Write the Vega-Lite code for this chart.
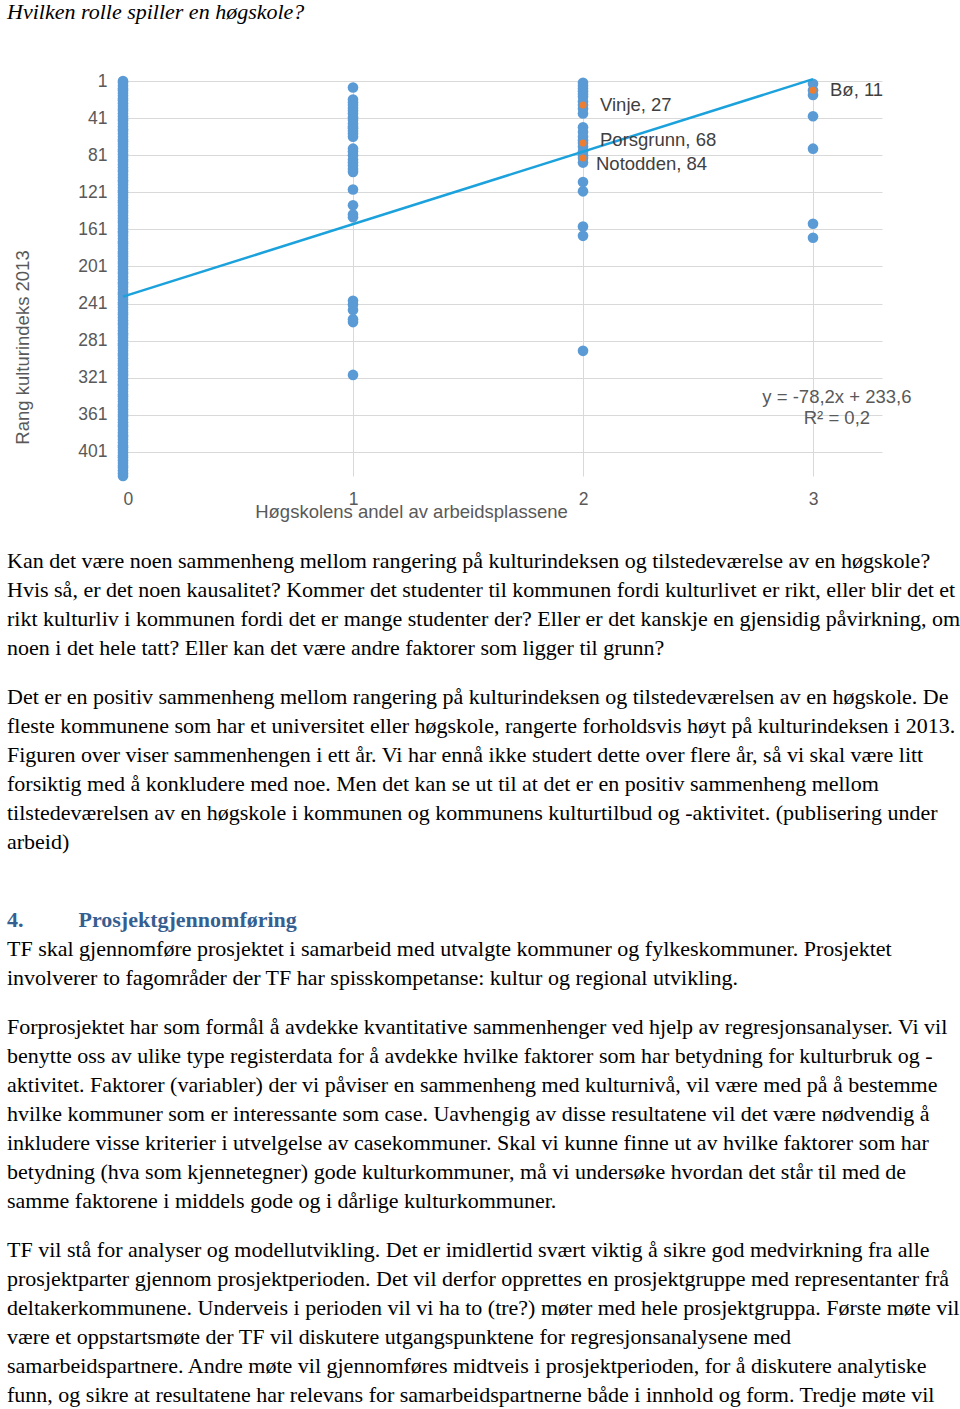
{
  "$schema": "https://vega.github.io/schema/vega-lite/v6.json",
  "background": "white",
  "padding": {"left": 7, "top": 1, "right": 0, "bottom": 0},
  "config": {"view": {"stroke": null}, "font": "Liberation Sans"},
  "title": {
    "text": "Hvilken rolle spiller en høgskole?",
    "font": "Liberation Serif",
    "fontStyle": "italic",
    "fontWeight": "normal",
    "fontSize": 22,
    "color": "#000000",
    "anchor": "start",
    "offset": 48
  },
  "datasets": {
    "punkter": [
      {"andel":0,"rang":1},{"andel":0,"rang":3},{"andel":0,"rang":6},{"andel":0,"rang":9},{"andel":0,"rang":11},{"andel":0,"rang":14},{"andel":0,"rang":17},{"andel":0,"rang":20},{"andel":0,"rang":22},{"andel":0,"rang":25},{"andel":0,"rang":28},{"andel":0,"rang":31},{"andel":0,"rang":33},{"andel":0,"rang":36},{"andel":0,"rang":39},{"andel":0,"rang":42},{"andel":0,"rang":44},{"andel":0,"rang":47},{"andel":0,"rang":50},{"andel":0,"rang":53},{"andel":0,"rang":55},{"andel":0,"rang":58},{"andel":0,"rang":61},{"andel":0,"rang":64},{"andel":0,"rang":66},{"andel":0,"rang":69},{"andel":0,"rang":72},{"andel":0,"rang":75},{"andel":0,"rang":77},{"andel":0,"rang":80},{"andel":0,"rang":83},{"andel":0,"rang":86},{"andel":0,"rang":88},{"andel":0,"rang":91},{"andel":0,"rang":94},{"andel":0,"rang":97},{"andel":0,"rang":99},{"andel":0,"rang":102},{"andel":0,"rang":105},{"andel":0,"rang":108},{"andel":0,"rang":110},{"andel":0,"rang":113},{"andel":0,"rang":116},{"andel":0,"rang":119},{"andel":0,"rang":121},{"andel":0,"rang":124},{"andel":0,"rang":127},{"andel":0,"rang":130},{"andel":0,"rang":132},{"andel":0,"rang":135},{"andel":0,"rang":138},{"andel":0,"rang":141},{"andel":0,"rang":143},{"andel":0,"rang":146},{"andel":0,"rang":149},{"andel":0,"rang":152},{"andel":0,"rang":154},{"andel":0,"rang":157},{"andel":0,"rang":160},{"andel":0,"rang":163},{"andel":0,"rang":165},{"andel":0,"rang":168},{"andel":0,"rang":171},{"andel":0,"rang":174},{"andel":0,"rang":176},{"andel":0,"rang":179},{"andel":0,"rang":182},{"andel":0,"rang":185},{"andel":0,"rang":187},{"andel":0,"rang":190},{"andel":0,"rang":193},{"andel":0,"rang":196},{"andel":0,"rang":198},{"andel":0,"rang":201},{"andel":0,"rang":204},{"andel":0,"rang":207},{"andel":0,"rang":209},{"andel":0,"rang":212},{"andel":0,"rang":215},{"andel":0,"rang":218},{"andel":0,"rang":220},{"andel":0,"rang":223},{"andel":0,"rang":226},{"andel":0,"rang":229},{"andel":0,"rang":231},{"andel":0,"rang":234},{"andel":0,"rang":237},{"andel":0,"rang":240},{"andel":0,"rang":242},{"andel":0,"rang":245},{"andel":0,"rang":248},{"andel":0,"rang":251},{"andel":0,"rang":253},{"andel":0,"rang":256},{"andel":0,"rang":259},{"andel":0,"rang":262},{"andel":0,"rang":264},{"andel":0,"rang":267},{"andel":0,"rang":270},{"andel":0,"rang":273},{"andel":0,"rang":275},{"andel":0,"rang":278},{"andel":0,"rang":281},{"andel":0,"rang":284},{"andel":0,"rang":286},{"andel":0,"rang":289},{"andel":0,"rang":292},{"andel":0,"rang":295},{"andel":0,"rang":297},{"andel":0,"rang":300},{"andel":0,"rang":303},{"andel":0,"rang":306},{"andel":0,"rang":308},{"andel":0,"rang":311},{"andel":0,"rang":314},{"andel":0,"rang":317},{"andel":0,"rang":319},{"andel":0,"rang":322},{"andel":0,"rang":325},{"andel":0,"rang":328},{"andel":0,"rang":330},{"andel":0,"rang":333},{"andel":0,"rang":336},{"andel":0,"rang":339},{"andel":0,"rang":341},{"andel":0,"rang":344},{"andel":0,"rang":347},{"andel":0,"rang":350},{"andel":0,"rang":352},{"andel":0,"rang":355},{"andel":0,"rang":358},{"andel":0,"rang":361},{"andel":0,"rang":363},{"andel":0,"rang":366},{"andel":0,"rang":369},{"andel":0,"rang":372},{"andel":0,"rang":374},{"andel":0,"rang":377},{"andel":0,"rang":380},{"andel":0,"rang":383},{"andel":0,"rang":385},{"andel":0,"rang":388},{"andel":0,"rang":391},{"andel":0,"rang":394},{"andel":0,"rang":396},{"andel":0,"rang":399},{"andel":0,"rang":402},{"andel":0,"rang":405},{"andel":0,"rang":407},{"andel":0,"rang":410},{"andel":0,"rang":413},{"andel":0,"rang":416},{"andel":0,"rang":418},{"andel":0,"rang":421},{"andel":0,"rang":424},{"andel":0,"rang":427},
      {"andel":1,"rang":8},{"andel":1,"rang":21},{"andel":1,"rang":24},{"andel":1,"rang":27},{"andel":1,"rang":30},{"andel":1,"rang":33},{"andel":1,"rang":36},{"andel":1,"rang":40},{"andel":1,"rang":43},{"andel":1,"rang":47},{"andel":1,"rang":50},{"andel":1,"rang":52},{"andel":1,"rang":55},{"andel":1,"rang":58},{"andel":1,"rang":61},{"andel":1,"rang":74},{"andel":1,"rang":77},{"andel":1,"rang":81},{"andel":1,"rang":86},{"andel":1,"rang":89},{"andel":1,"rang":92},{"andel":1,"rang":96},{"andel":1,"rang":99},{"andel":1,"rang":118},{"andel":1,"rang":135},{"andel":1,"rang":145},{"andel":1,"rang":148},{"andel":1,"rang":238},{"andel":1,"rang":242},{"andel":1,"rang":248},{"andel":1,"rang":258},{"andel":1,"rang":261},{"andel":1,"rang":318},
      {"andel":2,"rang":3},{"andel":2,"rang":6},{"andel":2,"rang":9},{"andel":2,"rang":12},{"andel":2,"rang":15},{"andel":2,"rang":18},{"andel":2,"rang":23},{"andel":2,"rang":27},{"andel":2,"rang":31},{"andel":2,"rang":36},{"andel":2,"rang":51},{"andel":2,"rang":56},{"andel":2,"rang":61},{"andel":2,"rang":65},{"andel":2,"rang":68},{"andel":2,"rang":72},{"andel":2,"rang":77},{"andel":2,"rang":81},{"andel":2,"rang":84},{"andel":2,"rang":89},{"andel":2,"rang":110},{"andel":2,"rang":120},{"andel":2,"rang":158},{"andel":2,"rang":168},{"andel":2,"rang":292},
      {"andel":3,"rang":4},{"andel":3,"rang":11},{"andel":3,"rang":16},{"andel":3,"rang":39},{"andel":3,"rang":74},{"andel":3,"rang":155},{"andel":3,"rang":170}
    ],
    "utvalgte": [
      {"andel":2,"rang":27,"navn":"Vinje","etikett":"Vinje, 27"},
      {"andel":2,"rang":68,"navn":"Porsgrunn","etikett":"Porsgrunn, 68"},
      {"andel":2,"rang":84,"navn":"Notodden","etikett":"Notodden, 84"},
      {"andel":3,"rang":11,"navn":"Bø","etikett":"Bø, 11"}
    ],
    "trend": [
      {"andel":0,"rang":233.6},
      {"andel":3,"rang":-1}
    ],
    "likning": [
      {"andel":3.104,"rang":342,"tekst":"y = -78,2x + 233,6"},
      {"andel":3.104,"rang":364,"tekst":"R² = 0,2"}
    ],
    "tekst": [
      {"avsnitt":1,"linje":1,"tekst":"Kan det være noen sammenheng mellom rangering på kulturindeksen og tilstedeværelse av en høgskole?"},
      {"avsnitt":1,"linje":2,"tekst":"Hvis så, er det noen kausalitet? Kommer det studenter til kommunen fordi kulturlivet er rikt, eller blir det et"},
      {"avsnitt":1,"linje":3,"tekst":"rikt kulturliv i kommunen fordi det er mange studenter der? Eller er det kanskje en gjensidig påvirkning, om"},
      {"avsnitt":1,"linje":4,"tekst":"noen i det hele tatt? Eller kan det være andre faktorer som ligger til grunn?"},
      {"avsnitt":2,"linje":1,"tekst":"Det er en positiv sammenheng mellom rangering på kulturindeksen og tilstedeværelsen av en høgskole. De"},
      {"avsnitt":2,"linje":2,"tekst":"fleste kommunene som har et universitet eller høgskole, rangerte forholdsvis høyt på kulturindeksen i 2013."},
      {"avsnitt":2,"linje":3,"tekst":"Figuren over viser sammenhengen i ett år. Vi har ennå ikke studert dette over flere år, så vi skal være litt"},
      {"avsnitt":2,"linje":4,"tekst":"forsiktig med å konkludere med noe. Men det kan se ut til at det er en positiv sammenheng mellom"},
      {"avsnitt":2,"linje":5,"tekst":"tilstedeværelsen av en høgskole i kommunen og kommunens kulturtilbud og -aktivitet. (publisering under"},
      {"avsnitt":2,"linje":6,"tekst":"arbeid)"},
      {"avsnitt":3,"linje":1,"tekst":"4.\u00a0\u00a0\u00a0\u00a0\u00a0\u00a0\u00a0\u00a0\u00a0\u00a0Prosjektgjennomføring"},
      {"avsnitt":3,"linje":2,"tekst":"TF skal gjennomføre prosjektet i samarbeid med utvalgte kommuner og fylkeskommuner. Prosjektet"},
      {"avsnitt":3,"linje":3,"tekst":"involverer to fagområder der TF har spisskompetanse: kultur og regional utvikling."},
      {"avsnitt":4,"linje":1,"tekst":"Forprosjektet har som formål å avdekke kvantitative sammenhenger ved hjelp av regresjonsanalyser. Vi vil"},
      {"avsnitt":4,"linje":2,"tekst":"benytte oss av ulike type registerdata for å avdekke hvilke faktorer som har betydning for kulturbruk og -"},
      {"avsnitt":4,"linje":3,"tekst":"aktivitet. Faktorer (variabler) der vi påviser en sammenheng med kulturnivå, vil være med på å bestemme"},
      {"avsnitt":4,"linje":4,"tekst":"hvilke kommuner som er interessante som case. Uavhengig av disse resultatene vil det være nødvendig å"},
      {"avsnitt":4,"linje":5,"tekst":"inkludere visse kriterier i utvelgelse av casekommuner. Skal vi kunne finne ut av hvilke faktorer som har"},
      {"avsnitt":4,"linje":6,"tekst":"betydning (hva som kjennetegner) gode kulturkommuner, må vi undersøke hvordan det står til med de"},
      {"avsnitt":4,"linje":7,"tekst":"samme faktorene i middels gode og i dårlige kulturkommuner."},
      {"avsnitt":5,"linje":1,"tekst":"TF vil stå for analyser og modellutvikling. Det er imidlertid svært viktig å sikre god medvirkning fra alle"},
      {"avsnitt":5,"linje":2,"tekst":"prosjektparter gjennom prosjektperioden. Det vil derfor opprettes en prosjektgruppe med representanter frå"},
      {"avsnitt":5,"linje":3,"tekst":"deltakerkommunene. Underveis i perioden vil vi ha to (tre?) møter med hele prosjektgruppa. Første møte vil"},
      {"avsnitt":5,"linje":4,"tekst":"være et oppstartsmøte der TF vil diskutere utgangspunktene for regresjonsanalysene med"},
      {"avsnitt":5,"linje":5,"tekst":"samarbeidspartnere. Andre møte vil gjennomføres midtveis i prosjektperioden, for å diskutere analytiske"},
      {"avsnitt":5,"linje":6,"tekst":"funn, og sikre at resultatene har relevans for samarbeidspartnerne både i innhold og form. Tredje møte vil"}
    ]
  },
  "spacing": 25,
  "vconcat": [
    {
      "width": 759,
      "height": 395,
      "encoding": {
        "x": {
          "field": "andel",
          "type": "quantitative",
          "scale": {"domain": [0, 3.3], "nice": false, "zero": false},
          "axis": {
            "values": [0, 1, 2, 3],
            "grid": true,
            "gridColor": "#D9D9D9",
            "domain": false,
            "ticks": false,
            "labelPadding": 14,
            "labelFontSize": 17.5,
            "labelColor": "#595959",
            "title": "Høgskolens andel av arbeidsplassene",
            "titleFontSize": 18.5,
            "titleFontWeight": "normal",
            "titleColor": "#595959",
            "titleX": 288,
            "titleY": 41,
            "titleAlign": "center",
            "titleBaseline": "alphabetic"
          }
        },
        "y": {
          "field": "rang",
          "type": "quantitative",
          "scale": {"domain": [1, 427], "reverse": true, "nice": false, "zero": false},
          "axis": {
            "values": [1, 41, 81, 121, 161, 201, 241, 281, 321, 361, 401],
            "grid": true,
            "gridColor": "#D9D9D9",
            "domain": false,
            "ticks": false,
            "labelPadding": 16,
            "labelFontSize": 17.5,
            "labelColor": "#595959",
            "title": "Rang kulturindeks 2013",
            "titleFontSize": 18.5,
            "titleFontWeight": "normal",
            "titleColor": "#595959",
            "titleAngle": 270,
            "titleX": -101,
            "titleY": 266,
            "titleAlign": "center",
            "titleBaseline": "middle"
          }
        }
      },
      "layer": [
        {
          "data": {"name": "punkter"},
          "mark": {"type": "circle", "size": 113, "color": "#5B9BD5", "opacity": 1}
        },
        {
          "data": {"name": "utvalgte"},
          "mark": {"type": "circle", "size": 50, "color": "#ED7D31", "opacity": 1}
        },
        {
          "data": {"name": "trend"},
          "mark": {"type": "line", "color": "#1BA1DB", "strokeWidth": 2.5}
        },
        {
          "data": {"name": "utvalgte"},
          "transform": [{"filter": "datum.navn == 'Vinje' || datum.navn == 'Bø'"}],
          "mark": {"type": "text", "align": "left", "baseline": "middle", "dx": 17, "fontSize": 18.5, "color": "#404040"},
          "encoding": {"text": {"field": "etikett"}}
        },
        {
          "data": {"name": "utvalgte"},
          "transform": [{"filter": "datum.navn == 'Porsgrunn'"}],
          "mark": {"type": "text", "align": "left", "baseline": "middle", "dx": 17, "dy": -3, "fontSize": 18.5, "color": "#404040"},
          "encoding": {"text": {"field": "etikett"}}
        },
        {
          "data": {"name": "utvalgte"},
          "transform": [{"filter": "datum.navn == 'Notodden'"}],
          "mark": {"type": "text", "align": "left", "baseline": "middle", "dx": 13, "dy": 6, "fontSize": 18.5, "color": "#404040"},
          "encoding": {"text": {"field": "etikett"}}
        },
        {
          "data": {"name": "likning"},
          "mark": {"type": "text", "align": "center", "baseline": "middle", "fontSize": 18.5, "color": "#595959"},
          "encoding": {"text": {"field": "tekst"}}
        }
      ]
    },
    {
      "spacing": 20,
      "vconcat": [
        {
          "width": 830,
          "height": {"step": 29},
          "data": {"name": "tekst"},
          "transform": [{"filter": "datum.avsnitt == 1"}],
          "mark": {"type": "text", "align": "left", "baseline": "middle", "dx": -116, "font": "Liberation Serif", "fontSize": 22, "color": "#000000"},
          "encoding": {
            "x": {"datum": 0, "type": "quantitative", "scale": {"domain": [0, 1]}, "axis": null},
            "y": {"field": "linje", "type": "ordinal", "axis": null},
            "text": {"field": "tekst"}
          }
        },
        {
          "width": 830,
          "height": {"step": 29},
          "data": {"name": "tekst"},
          "transform": [{"filter": "datum.avsnitt == 2"}],
          "mark": {"type": "text", "align": "left", "baseline": "middle", "dx": -116, "font": "Liberation Serif", "fontSize": 22, "color": "#000000"},
          "encoding": {
            "x": {"datum": 0, "type": "quantitative", "scale": {"domain": [0, 1]}, "axis": null},
            "y": {"field": "linje", "type": "ordinal", "axis": null},
            "text": {"field": "tekst"}
          }
        },
        {
          "width": 830,
          "height": {"step": 29},
          "data": {"name": "tekst"},
          "transform": [{"filter": "datum.avsnitt == 3"}],
          "encoding": {
            "x": {"datum": 0, "type": "quantitative", "scale": {"domain": [0, 1]}, "axis": null},
            "y": {"field": "linje", "type": "ordinal", "axis": null, "scale": {"domain": [0, 1, 2, 3]}},
            "text": {"field": "tekst"}
          },
          "layer": [
            {
              "transform": [{"filter": "datum.linje == 1"}],
              "mark": {"type": "text", "align": "left", "baseline": "middle", "dx": -116, "font": "Liberation Serif", "fontSize": 22, "fontWeight": "bold", "color": "#365F91"}
            },
            {
              "transform": [{"filter": "datum.linje > 1"}],
              "mark": {"type": "text", "align": "left", "baseline": "middle", "dx": -116, "font": "Liberation Serif", "fontSize": 22, "color": "#000000"}
            }
          ]
        },
        {
          "width": 830,
          "height": {"step": 29},
          "data": {"name": "tekst"},
          "transform": [{"filter": "datum.avsnitt == 4"}],
          "mark": {"type": "text", "align": "left", "baseline": "middle", "dx": -116, "font": "Liberation Serif", "fontSize": 22, "color": "#000000"},
          "encoding": {
            "x": {"datum": 0, "type": "quantitative", "scale": {"domain": [0, 1]}, "axis": null},
            "y": {"field": "linje", "type": "ordinal", "axis": null},
            "text": {"field": "tekst"}
          }
        },
        {
          "width": 830,
          "height": {"step": 29},
          "data": {"name": "tekst"},
          "transform": [{"filter": "datum.avsnitt == 5"}],
          "mark": {"type": "text", "align": "left", "baseline": "middle", "dx": -116, "font": "Liberation Serif", "fontSize": 22, "color": "#000000"},
          "encoding": {
            "x": {"datum": 0, "type": "quantitative", "scale": {"domain": [0, 1]}, "axis": null},
            "y": {"field": "linje", "type": "ordinal", "axis": null},
            "text": {"field": "tekst"}
          }
        }
      ]
    }
  ]
}
